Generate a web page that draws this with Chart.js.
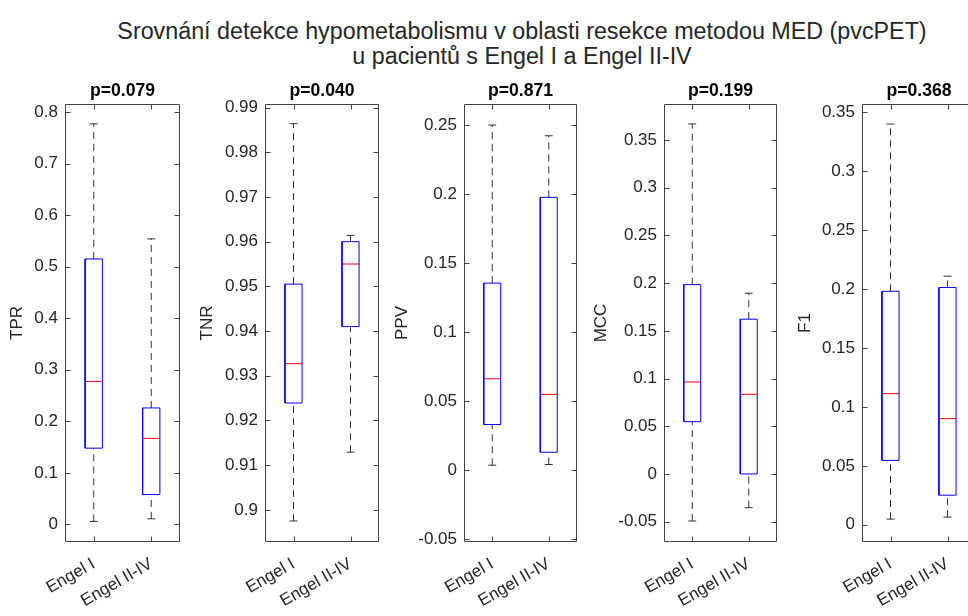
<!DOCTYPE html>
<html>
<head>
<meta charset="utf-8">
<script src="https://cdn.jsdelivr.net/npm/chart.js@4.4.0/dist/chart.umd.min.js"></script>
<style>
  html,body{margin:0;padding:0;background:#fff;overflow:hidden;width:968px;height:616px;}
  #wrap{position:relative;width:968px;height:616px;overflow:hidden;}
  #suptitle{position:absolute;left:0;top:19px;width:1044px;text-align:center;white-space:nowrap;
    font-family:'Liberation Sans',Arial,sans-serif;font-size:23.3px;line-height:25px;color:#262626;}
  canvas{position:absolute;top:0;}
</style>
</head>
<body>
<div id="wrap">
  <div id="suptitle">Srovnání detekce hypometabolismu v oblasti resekce metodou MED (pvcPET)<br>u pacientů s Engel I a Engel II-IV</div>
</div>
<script>
/* ====== DATA ====== */
const groups  = ['Engel I', 'Engel II-IV'];
const metrics = ['TPR', 'TNR', 'PPV', 'MCC', 'F1'];
const pLabels = ['p=0.079', 'p=0.040', 'p=0.871', 'p=0.199', 'p=0.368'];

// one row per metric: [Engel I, Engel II-IV]
const whiskerLo = [[0.006, 0.011], [0.8975, 0.9129], [0.0036, 0.0041], [-0.0493, -0.0353], [0.0048, 0.0065]];
const q1        = [[0.148, 0.058], [0.9239, 0.9410], [0.0331, 0.0130], [0.0548, 0.0000], [0.0546, 0.0251]];
const median    = [[0.2775, 0.167], [0.9327, 0.9550], [0.0662, 0.0549], [0.0964, 0.0835], [0.1112, 0.0900]];
const q3        = [[0.515, 0.226], [0.9505, 0.9600], [0.1355, 0.1976], [0.1984, 0.1622], [0.1980, 0.2012]];
const whiskerHi = [[0.777, 0.554], [0.9864, 0.9614], [0.2500, 0.2422], [0.3668, 0.1894], [0.3398, 0.2108]];

// y tick labels per metric
const tprTicks = ['0', '0.1', '0.2', '0.3', '0.4', '0.5', '0.6', '0.7', '0.8'];
const tnrTicks = ['0.9', '0.91', '0.92', '0.93', '0.94', '0.95', '0.96', '0.97', '0.98', '0.99'];
const ppvTicks = ['-0.05', '0', '0.05', '0.1', '0.15', '0.2', '0.25'];
const mccTicks = ['-0.05', '0', '0.05', '0.1', '0.15', '0.2', '0.25', '0.3', '0.35'];
const f1Ticks  = ['0', '0.05', '0.1', '0.15', '0.2', '0.25', '0.3', '0.35'];
const yTicks   = [tprTicks, tnrTicks, ppvTicks, mccTicks, f1Ticks];

// axis limits
const yMin = [-0.034, 0.8928, -0.052, -0.0713, -0.0146];
const yMax = [0.8155, 0.9908, 0.2652, 0.3877, 0.3568];

/* ====== LAYOUT / STYLE ====== */
const plotLeft  = [65, 265, 464, 664, 862];
const plotRight = [180, 379, 577, 777, 976];
const yTitleOff = [-48, -58, -62, -63, -57];
const AXIS_W = 80, PAD_R = 6, H = 616, PLOT_TOP = 104, PLOT_BOTTOM = 542;
const BOX = 0.15, CAP = 0.07, TICK = 5;
const TXT = '#262626', AXIS = '#444', BLUE = '#0000ff', RED = '#ff0000', WHISK = 'rgba(0,0,0,0.8)';
const FS = 17, TITLE_FS = 17.6;

Chart.defaults.font.family = "'Liberation Sans', Arial, sans-serif";

/* ====== helpers ====== */
const frame = {
  id: 'frame',
  afterDraw(chart){
    const {ctx, chartArea: a, scales: {x, y}} = chart;
    const L = a.left + 0.5, R = a.right - 0.5, T = a.top + 0.5, B = a.bottom - 0.5;
    ctx.save();
    ctx.strokeStyle = AXIS; ctx.lineWidth = 1;
    ctx.beginPath();
    ctx.rect(L, T, R - L, B - T);
    y.ticks.forEach(t=>{
      const py = Math.round(y.getPixelForValue(t.value)) + 0.5;
      ctx.moveTo(L, py); ctx.lineTo(L + TICK, py);
      ctx.moveTo(R, py); ctx.lineTo(R - TICK, py);
    });
    x.ticks.forEach(t=>{
      const px = Math.round(x.getPixelForValue(t.value)) + 0.5;
      ctx.moveTo(px, B); ctx.lineTo(px, B - TICK);
      ctx.moveTo(px, T); ctx.lineTo(px, T + TICK);
    });
    ctx.stroke();
    ctx.restore();
  }
};

const seg = (pts, color, dash)=>({
  data: pts.map(([x, y])=>({x, y})),
  borderColor: color, borderWidth: 1, borderDash: dash || [],
  showLine: true, pointRadius: 0, pointHoverRadius: 0, fill: false, tension: 0
});

function boxDatasets(m){
  const ds = [];
  groups.forEach((g, i)=>{
    const x = i + 1;
    const lo = whiskerLo[m][i], a = q1[m][i], md = median[m][i], b = q3[m][i], hi = whiskerHi[m][i];
    ds.push(seg([[x, b], [x, hi]], WHISK, [7, 5]));
    ds.push(seg([[x, lo], [x, a]], WHISK, [7, 5]));
    ds.push(seg([[x - CAP, hi], [x + CAP, hi]], WHISK));
    ds.push(seg([[x - CAP, lo], [x + CAP, lo]], WHISK));
    ds.push(seg([[x - BOX, a], [x + BOX, a], [x + BOX, b], [x - BOX, b], [x - BOX, a]], BLUE));
    ds.push(seg([[x - BOX, md], [x + BOX, md]], RED));
  });
  return ds;
}

/* ====== PANELS ====== */
const wrap = document.getElementById('wrap');
metrics.forEach((name, m)=>{
  const cv = document.createElement('canvas');
  const w = AXIS_W + (plotRight[m] - plotLeft[m]) + PAD_R;
  cv.width = w; cv.height = H;
  cv.style.left = (plotLeft[m] - AXIS_W) + 'px';
  cv.style.width = w + 'px'; cv.style.height = H + 'px';
  wrap.appendChild(cv);

  const tickVals = yTicks[m].map(Number);
  const titleH = TITLE_FS * 1.2 + 4 + 2;
  const titlePad = AXIS_W + yTitleOff[m] - FS * 1.2 / 2;

  new Chart(cv.getContext('2d'), {
    type: 'scatter',
    data: { datasets: boxDatasets(m) },
    plugins: [frame],
    options: {
      responsive: false, animation: false, events: [],
      layout: { padding: { top: PLOT_TOP - titleH, bottom: 0, left: 0, right: PAD_R } },
      plugins: {
        legend: { display: false }, tooltip: { enabled: false },
        title: { display: true, text: pLabels[m], color: '#000', fullSize: false,
                 font: { size: TITLE_FS, weight: 'bold' }, padding: { top: 4, bottom: 2 } }
      },
      scales: {
        x: {
          type: 'linear', min: 0.5, max: 2.5,
          afterBuildTicks: s=>{ s.ticks = groups.map((g, i)=>({ value: i + 1 })); },
          afterFit: s=>{ s.height = H - PLOT_BOTTOM; s.paddingLeft = 0; s.paddingRight = 0; },
          grid: { display: false, drawTicks: false }, border: { display: false },
          ticks: { autoSkip: false, minRotation: 30, maxRotation: 30, padding: 12,
                   color: TXT, font: { size: FS }, callback: (v, i)=> groups[i] }
        },
        y: {
          type: 'linear', min: yMin[m], max: yMax[m],
          afterBuildTicks: s=>{ s.ticks = tickVals.map(v=>({ value: v })); },
          afterFit: s=>{ s.width = AXIS_W; s.paddingTop = 0; s.paddingBottom = 0; },
          grid: { display: false, drawTicks: false }, border: { display: false },
          ticks: { padding: 7, color: TXT, font: { size: FS }, callback: (v, i)=> yTicks[m][i] },
          title: { display: true, text: name, color: TXT, font: { size: FS },
                   padding: { top: titlePad, bottom: 0 } }
        }
      }
    }
  });
});
</script>
</body>
</html>
